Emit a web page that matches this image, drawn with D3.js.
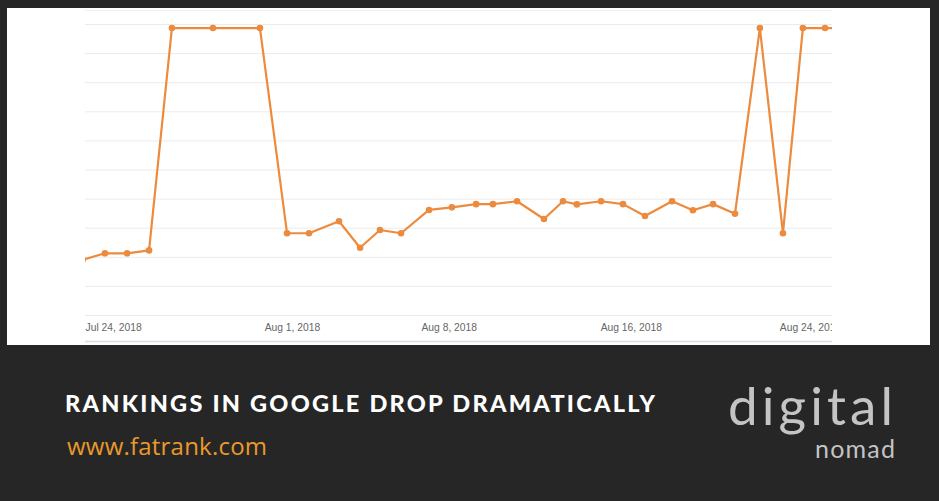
<!DOCTYPE html>
<html>
<head>
<meta charset="utf-8">
<script src="https://cdn.jsdelivr.net/npm/d3@7"></script>
<style>
  html, body { margin: 0; padding: 0; background: #262626; }
  svg { display: block; }
</style>
</head>
<body>
<svg id="chart" width="939" height="501"></svg>
<script>
// ---- data ----
// days after Jul 24, 2018 (fractional: the snapshot times are not exactly at midnight)
const dayOffset = [-0.1, 0.89, 1.88, 2.86, 3.88, 5.71, 7.81, 9.02, 10.0, 11.34, 12.28, 13.17, 14.11,
  15.36, 16.38, 17.46, 18.21, 19.29, 20.49, 21.34, 21.96, 23.04, 24.02, 25.0, 26.21, 27.14,
  28.04, 29.02, 30.13, 31.16, 32.05, 33.04, 34.0];
// ranking position (lower = higher on chart)
const position = [8.1, 7.88, 7.88, 7.78, 0.14, 0.14, 0.14, 7.19, 7.19, 6.78, 7.69, 7.08, 7.19,
  6.39, 6.30, 6.19, 6.19, 6.09, 6.70, 6.09, 6.20, 6.09, 6.19, 6.60, 6.09, 6.40,
  6.19, 6.52, 0.14, 7.19, 0.14, 0.14, 0.14];
const tickOffsets = [0, 8, 15, 23, 31];
const tickLabels = ["Jul 24, 2018", "Aug 1, 2018", "Aug 8, 2018", "Aug 16, 2018", "Aug 24, 2018"];
const gridValues = [0, 1, 2, 3, 4, 5, 6, 7, 8, 9, 10];
const title = "RANKINGS IN GOOGLE DROP DRAMATICALLY";
const site = "www.fatrank.com";
const logoTop = "digital";
const logoBottom = "nomad";

// ---- setup ----
const svg = d3.select("#chart");
const DAY = 86400000;
const base = new Date(2018, 6, 24);
const toDate = d => new Date(base.getTime() + d * DAY);

const pLeft = 85, pRight = 832, pTop = 24, pBottom = 315;
const x = d3.scaleTime().domain([toDate(0), toDate(33.35)]).range([pLeft, pRight]);
const y = d3.scaleLinear().domain([0, 10]).range([pTop, pBottom]);

// background & panel
svg.append("rect").attr("width", 939).attr("height", 501).attr("fill", "#262626");
svg.append("rect").attr("x", 7).attr("y", 8).attr("width", 923).attr("height", 337).attr("fill", "#ffffff");

const defs = svg.append("defs");
defs.append("clipPath").attr("id", "plotClip")
  .append("rect").attr("x", pLeft).attr("y", 0).attr("width", pRight - pLeft).attr("height", 345);

// faint header line
svg.append("line").attr("x1", pLeft).attr("x2", pRight).attr("y1", 10.5).attr("y2", 10.5)
  .attr("stroke", "#f0f0f0").attr("stroke-width", 1);

// gridlines
const grid = svg.append("g").attr("transform", `translate(${pLeft},0)`)
  .call(d3.axisLeft(y).tickValues(gridValues).tickSize(-(pRight - pLeft)).tickFormat(""));
grid.select(".domain").remove();
grid.selectAll(".tick line").attr("stroke", "#ebebeb").attr("stroke-width", 1);

// x axis labels
const xAxis = svg.append("g").attr("transform", `translate(0,${pBottom})`)
  .attr("clip-path", "url(#plotClip)")
  .call(d3.axisBottom(x).tickValues(tickOffsets.map(toDate))
    .tickFormat((d, i) => tickLabels[i]).tickSize(0));
xAxis.select(".domain").remove();
xAxis.selectAll(".tick text")
  .attr("text-anchor", "start")
  .attr("y", 15.5).attr("dy", 0)
  .attr("fill", "#666")
  .style("font-family", "'Liberation Sans', Arial, sans-serif")
  .style("font-size", "10.3px");

// bottom scroller line
svg.append("line").attr("x1", pLeft).attr("x2", pRight).attr("y1", 341.5).attr("y2", 341.5)
  .attr("stroke", "#d9dce6").attr("stroke-width", 1.5);

// series
const data = dayOffset.map((d, i) => ({ date: toDate(d), v: position[i] }));
const plot = svg.append("g").attr("clip-path", "url(#plotClip)");
plot.append("path").datum(data)
  .attr("fill", "none").attr("stroke", "#ec8b3e").attr("stroke-width", 2.2)
  .attr("stroke-linejoin", "round")
  .attr("d", d3.line().x(d => x(d.date)).y(d => y(d.v)));
plot.selectAll("circle").data(data).join("circle")
  .attr("cx", d => x(d.date)).attr("cy", d => y(d.v)).attr("r", 3.3)
  .attr("fill", "#ec8b3e");

// footer texts
svg.append("text").text(title)
  .attr("x", 65).attr("y", 412)
  .attr("textLength", 590).attr("lengthAdjust", "spacing")
  .attr("fill", "#ffffff")
  .style("font-family", "Lato, 'Open Sans', sans-serif")
  .style("font-weight", 900).style("font-size", "23.5px");

svg.append("text").text(site)
  .attr("x", 67).attr("y", 455)
  .attr("textLength", 200).attr("lengthAdjust", "spacing")
  .attr("fill", "#e99a2a")
  .style("font-family", "'Open Sans', sans-serif")
  .style("font-size", "24px");

svg.append("text").text(logoTop)
  .attr("x", 728).attr("y", 425)
  .attr("textLength", 165).attr("lengthAdjust", "spacing")
  .attr("fill", "#c4c4c4")
  .style("font-family", "Lato, 'Open Sans', sans-serif")
  .style("font-weight", 400).style("font-size", "53px");

svg.append("text").text(logoBottom)
  .attr("x", 815).attr("y", 458)
  .attr("textLength", 80).attr("lengthAdjust", "spacing")
  .attr("fill", "#c4c4c4")
  .style("font-family", "Lato, 'Open Sans', sans-serif")
  .style("font-weight", 400).style("font-size", "25px");
</script>
</body>
</html>
